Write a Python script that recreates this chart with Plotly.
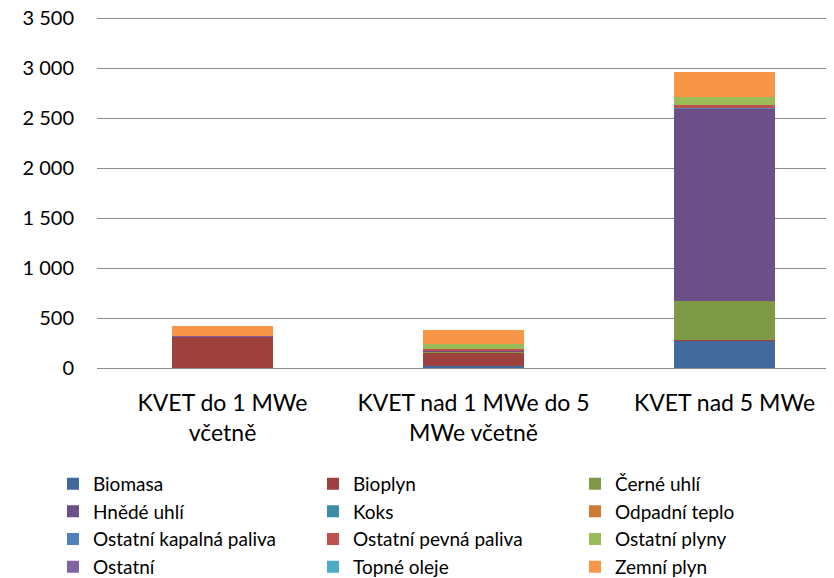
import plotly.graph_objects as go

categories = ["KVET do 1 MWe včetně", "KVET nad 1 MWe do 5 MWe včetně", "KVET nad 5 MWe"]
tick_labels = ["KVET do 1 MWe<br>včetně", "KVET nad 1 MWe do 5<br>MWe včetně", "KVET nad 5 MWe"]

series_names = ["Biomasa", "Bioplyn", "Černé uhlí", "Hnědé uhlí", "Koks", "Odpadní teplo",
                "Ostatní kapalná paliva", "Ostatní pevná paliva", "Ostatní plyny", "Ostatní",
                "Topné oleje", "Zemní plyn"]

biomasa = [3, 23, 275]
bioplyn = [308, 133, 10]
cerne_uhli = [0, 10, 381]
hnede_uhli = [0, 8, 1930]
koks = [0, 0, 0]
odpadni_teplo = [0, 0, 2]
ostatni_kapalna = [0, 0, 4]
ostatni_pevna = [0, 13, 26]
ostatni_plyny = [5, 56, 84]
ostatni = [2, 2, 2]
topne_oleje = [0, 0, 1]
zemni_plyn = [107, 137, 245]

values = [biomasa, bioplyn, cerne_uhli, hnede_uhli, koks, odpadni_teplo, ostatni_kapalna,
          ostatni_pevna, ostatni_plyny, ostatni, topne_oleje, zemni_plyn]

colors = ["#41699B", "#9E403E", "#7E9A47", "#6A5086", "#3B8DA5", "#CC7A34",
          "#4F81BD", "#C0504D", "#9BBB59", "#8064A2", "#4BACC6", "#F79646"]

# legend column for each series (3 columns, row-major order as in the original)
legend_ids = ["legend", "legend2", "legend3"]

fig = go.Figure()
for i, (name, vals, col) in enumerate(zip(series_names, values, colors)):
    fig.add_trace(go.Bar(
        x=categories, y=vals, name=name,
        marker=dict(color=col, line=dict(width=0)),
        width=0.4,
        legend=legend_ids[i % 3],
        legendrank=i,
    ))

FONT = "Lato"
leg_common = dict(orientation="v", yanchor="top", y=-0.275, xanchor="left",
                  traceorder="normal",
                  font=dict(family=FONT, size=19, color="#000000"),
                  bgcolor="rgba(0,0,0,0)", borderwidth=0, tracegroupgap=0)

fig.update_layout(
    width=834, height=578,
    margin=dict(l=89, r=0, t=8, b=218, autoexpand=False),
    paper_bgcolor="white", plot_bgcolor="white",
    barmode="stack",
    separators=", ",
    font=dict(family=FONT, size=20, color="#000000"),
    showlegend=True,
    legend=dict(x=-0.0591, **leg_common),
    legend2=dict(x=0.2899, **leg_common),
    legend3=dict(x=0.6416, **leg_common),
    xaxis=dict(
        tickvals=categories, ticktext=tick_labels,
        range=[-0.5, 2.468],
        showgrid=False, showline=False, zeroline=False,
        ticks="", ticklabelstandoff=19,
        tickfont=dict(family=FONT, size=23, color="#000000"),
    ),
    yaxis=dict(
        range=[0, 3520], tickvals=[0, 500, 1000, 1500, 2000, 2500, 3000, 3500],
        tickformat=",d", ticklabeloverflow="allow",
        showgrid=True, gridcolor="#8c8c8c", gridwidth=1,
        zeroline=True, zerolinecolor="#8c8c8c", zerolinewidth=1,
        showline=False, ticks="", ticklabelstandoff=22,
        tickfont=dict(family=FONT, size=20, color="#000000"),
    ),
)

fig.write_html("out.html")
